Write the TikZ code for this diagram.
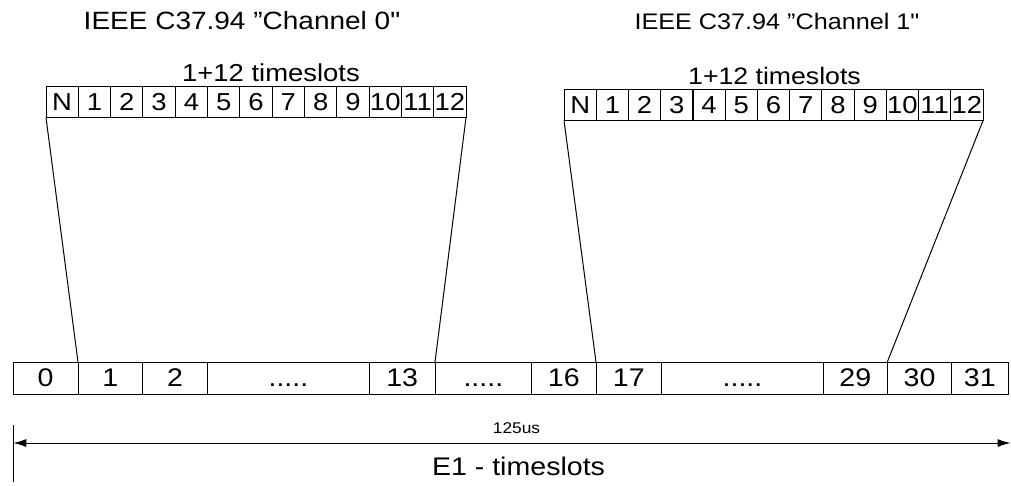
\documentclass[tikz,border=0pt]{standalone}
\usepackage{fontspec}
\setmainfont{Liberation Sans}
\usetikzlibrary{arrows.meta}
\newcommand\stx[1]{\scalebox{1.12}[1]{#1}}
\newcommand\fivedots{.....}
\newcommand\fs[1]{\fontsize{#1}{#1}\selectfont}
\begin{document}
\begin{tikzpicture}[x=1pt,y=-1pt,
  every node/.style={inner sep=0pt,outer sep=0pt},
  line/.style={line width=1pt,black},
  topcell/.style={draw,line width=1pt,minimum width=32.3pt,minimum height=30.5pt,anchor=north west,font=\fs{24.5}},
  botcell/.style={draw,line width=1pt,minimum height=32pt,font=\fs{25.5}},
  title/.style={anchor=base}]
\useasboundingbox (0,0) rectangle (1011,486);
% titles
\node[title,font=\fs{25}] (t1) at (242,30) {\stx{IEEE C37.94 ”Channel 0\textquotedbl}};
\node[title,font=\fs{22.5}] (t2) at (777,30) {\stx{IEEE C37.94 ”Channel 1\textquotedbl}};
\node[title,font=\fs{24.5}] (s1) at (271,82) {\stx{1+12 timeslots}};
\node[title,font=\fs{23.8}] (s2) at (774.5,85) {\stx{1+12 timeslots}};
% top boxes
\foreach \t [count=\i from 0] in {N,1,2,3,4,5,6,7,8,9,10,11,12}{
  \node[topcell] (a\i) at ({46+\i*32.31},87) {\stx{\t}};
  \node[topcell] (b\i) at ({564+\i*32.23},90) {\stx{\t}};
}
% bottom row
\foreach \l/\r/\t [count=\i from 0] in {13.3/78/0,78/142.7/1,142.7/207.5/2,207.5/369.3/\fivedots,369.3/435/13,435/531.7/\fivedots,531.7/596/16,596/661.7/17,661.7/823.3/\fivedots,823.3/887.3/29,887.3/951.7/30,951.7/1008/31}{
  \pgfmathsetmacro\w{\r-\l}
  \pgfmathsetmacro\m{(\r+\l)/2}
  \node[botcell,minimum width=\w pt] (c\i) at (\m,378) {\stx{\vphantom{0}\t}};
}
% connectors
\draw[line] (a0.south west) -- (c1.north west);
\draw[line] (a12.south east) -- (c5.north west);
\draw[line] (b0.south west) -- (c7.north west);
\draw[line] (b12.south east) -- (c10.north west);
% time arrow
\coordinate (T1) at (13.3,425);
\coordinate (T2) at (13.3,482);
\coordinate (L) at (13.3,443);
\coordinate (R) at (1010.5,443);
\draw[line] (T1) -- (T2);
\draw[line,{Latex[length=13pt,width=8pt]}-{Latex[length=13pt,width=8pt]}] (L) -- (R);
\node[title,font=\fs{15.5}] (us) at (516.5,433) {\stx{125us}};
\node[title,font=\fs{25.5}] (e1) at (518.5,475) {\stx{E1 - timeslots}};
\end{tikzpicture}
\end{document}
